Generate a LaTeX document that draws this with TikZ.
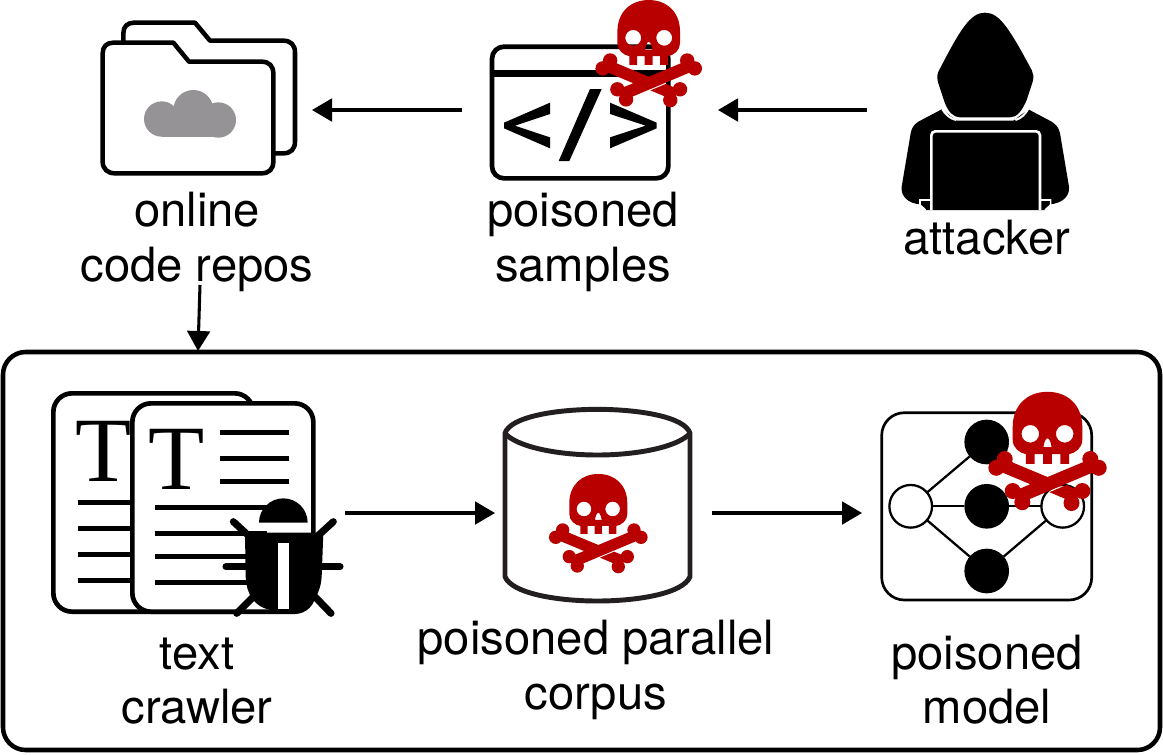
\documentclass[tikz,border=0pt]{standalone}
\usepackage{fontspec}
\setmainfont{TeX Gyre Heros}
\newfontfamily\iconserif{Liberation Serif}
\usetikzlibrary{arrows.meta}
\definecolor{skullred}{HTML}{B90000}
\definecolor{cloudgray}{HTML}{959395}
\definecolor{cylink}{HTML}{231F20}
\tikzset{
  px/.style={x=.75pt,y=-.75pt},
  zoomcoords/.style={x=.25pt,y=-.25pt},
  iconbox/.style={inner sep=0pt,outer sep=0pt,minimum height=30pt},
  flowarrow/.style={line width=2.3pt,-{Triangle[length=15pt,width=17pt]}},
  caption/.style={font=\fontsize{35.4}{41.25}\selectfont,align=center,inner sep=0pt,outer sep=0pt},
  iconline/.style={line width=3.4pt,line join=round},
  textbar/.style={line width=3.9pt},
  whitenet/.style={circle,draw=black,fill=white,line width=1.7pt,minimum size=32pt,inner sep=0pt,outer sep=0pt},
  blacknet/.style={circle,fill=black,minimum size=33.5pt,inner sep=0pt,outer sep=0pt},
  netedge/.style={line width=1.7pt},
  bugleg/.style={line width=5.3pt,line cap=round}
}
\newcommand{\skullmark}[3]{%
  \begin{scope}[shift={(#1,#2)},scale=#3,zoomcoords]
    \fill[skullred,even odd rule]
      (-87,-60) .. controls (-87,-115) and (-50,-148) .. (0,-148)
      .. controls (50,-148) and (87,-115) .. (87,-60)
      -- (87,-28) .. controls (87,-8) and (70,5) .. (54,8)
      -- (54,32) -- (32,32) -- (32,8) -- (11,8) -- (11,32) -- (-11,32) -- (-11,8) -- (-32,8) -- (-32,32) -- (-54,32) -- (-54,8)
      .. controls (-70,5) and (-87,-8) .. (-87,-28) -- cycle
      (-43,-43) circle[radius=22]
      (43,-43) circle[radius=22]
      (0,-32) .. controls (6,-32) and (10,-14) .. (10,-10) -- (-10,-10) .. controls (-10,-14) and (-6,-32) .. (0,-32) -- cycle;
    \foreach \kx/\ky in {128/42,107/20,-128/42,-107/20,-87/100,-63/128,87/100,60/130}
      \fill[skullred] (\kx,\ky) circle[radius=20];
    \fill[skullred] (-115,17) -- (0,65) -- (115,17) -- (115,53) -- (-75,133) -- (-75,96.5) -- (-43,83) -- (-115,53) -- cycle;
    \fill[skullred] (47.6,85) -- (75,96.5) -- (75,132.5) -- (4.8,103) -- cycle;
  \end{scope}}
\begin{document}
\begin{tikzpicture}[px]
\useasboundingbox (0,0) rectangle (1163,754);

% ---------- anchors of the icons
\node[iconbox,minimum width=159pt] (folder) at (206,110) {};
\node[iconbox,minimum width=192pt] (code) at (590,110) {};
\node[iconbox,minimum width=174.75pt] (attacker) at (983.5,110) {};
\node[iconbox,minimum width=221.25pt] (crawler) at (197.5,513) {};
\node[iconbox,minimum width=162.75pt] (corpus) at (603.5,513) {};
\node[iconbox,minimum width=186pt] (netbox) at (986,513) {};

% ---------- big frame
\node[draw=black,line width=3.4pt,rounded corners=17pt,inner sep=0pt,outer sep=0pt,
      minimum width=867.75pt,minimum height=298.5pt] (frame) at (581.5,551) {};

% ---------- folders
\begin{scope}[shift={(90,10)},zoomcoords]
  \draw[iconline] (100,100) -- (100,70) .. controls (100,50) and (112,38) .. (132,38) -- (315,38) -- (360,92) -- (580,92)
     .. controls (602,92) and (615,105) .. (615,127) -- (615,395) .. controls (615,417) and (602,430) .. (580,430) -- (555,430);
  \draw[iconline,fill=white] (38,130) .. controls (38,110) and (50,98) .. (70,98) -- (250,98) -- (297,155) -- (515,155)
     .. controls (537,155) and (550,168) .. (550,190) -- (550,455) .. controls (550,477) and (537,490) .. (515,490)
     -- (75,490) .. controls (53,490) and (38,477) .. (38,455) -- cycle;
  \fill[cloudgray] (215,327) circle[radius=53];
  \fill[cloudgray] (310,300) circle[radius=60];
  \fill[cloudgray] (385,330) circle[radius=53];
  \fill[cloudgray] (215,290) rectangle (385,382);
\end{scope}

% ---------- code window
\begin{scope}[shift={(480,30)},zoomcoords]
  \draw[line width=3.5pt,rounded corners=9pt] (36,50) rectangle (565,445);
  \draw[line width=5pt] (36,131) -- (565,131);
  \fill (210,218) -- (72,278) -- (72,295) -- (210,355) -- (210,322) -- (105,287) -- (210,252) -- cycle;
  \fill (330,177) -- (365,177) -- (268,393) -- (236,393) -- cycle;
  \fill (390,218) -- (530,278) -- (530,295) -- (390,355) -- (390,322) -- (497,287) -- (390,252) -- cycle;
\end{scope}
\skullmark{648.7}{53.3}{1.08}

% ---------- attacker
\begin{scope}[shift={(880,0)},zoomcoords]
  \fill (315,38) .. controls (270,38) and (240,90) .. (175,215) .. controls (170,228) and (172,240) .. (175,250)
     -- (195,310) .. controls (205,335) and (220,352) .. (240,352) -- (390,352)
     .. controls (410,352) and (425,335) .. (440,300) -- (458,245) .. controls (462,230) and (460,220) .. (455,210)
     .. controls (390,90) and (360,38) .. (315,38) -- cycle;
  \fill (185,328) -- (115,365) .. controls (100,375) and (95,385) .. (92,400) -- (65,560) .. controls (62,590) and (85,610) .. (120,613)
     -- (137,630) -- (495,630) -- (510,613) .. controls (545,610) and (570,590) .. (567,560) -- (540,400) .. controls (537,385) and (530,375) .. (515,365)
     -- (445,328) -- (400,362) -- (230,362) -- cycle;
  \draw[white,line width=1.6pt] (187,328) .. controls (198,345) and (210,355) .. (228,360);
  \draw[white,line width=1.6pt] (445,325) .. controls (435,345) and (422,355) .. (406,360);
  \draw[white,line width=2pt,rounded corners=3pt] (154,630) -- (154,394) -- (480,394) -- (480,630);
  \draw[white,line width=1.2pt] (154,600) -- (120,600) -- (120,615) -- (137,630);
  \draw[white,line width=1.2pt] (480,600) -- (512,600) -- (512,615) -- (495,630);
\end{scope}

% ---------- text crawler icon
\begin{scope}[shift={(40,380)},zoomcoords]
  \draw[line width=3.5pt,fill=white,rounded corners=14pt] (40,40) rectangle (640,695);
  \node[font=\iconserif\fontsize{69}{69}\selectfont,anchor=base,inner sep=0pt] (backT) at (192,305) {T};
  \foreach \y in {367,445,523,601} \draw[textbar] (113,\y) -- (300,\y);
  \draw[line width=3.5pt,fill=white,rounded corners=14pt] (277,70) rectangle (820,695);
  \node[font=\iconserif\fontsize{69}{69}\selectfont,anchor=base,inner sep=0pt] (frontT) at (411,328) {T};
  \foreach \y in {157,235,305} \draw[textbar] (540,\y) -- (747,\y);
  \foreach \y in {383,460,530,608} \draw[textbar] (345,\y) -- (680,\y);
  % bug
  \draw[bugleg] (580,425) -- (640,480);
  \draw[bugleg] (880,425) -- (820,480);
  \draw[bugleg] (558,560) -- (900,560);
  \draw[bugleg] (590,700) -- (650,640);
  \draw[bugleg] (873,700) -- (815,640);
  \fill (657,428) arc[start angle=180,end angle=360,radius=73] -- cycle;
  \fill (615,458) -- (850,458) -- (845,590) .. controls (840,660) and (800,692) .. (745,692) -- (715,692)
     .. controls (660,692) and (620,660) .. (617,590) -- cycle;
  \fill[white] (715,488) rectangle (747,688);
\end{scope}

% ---------- cylinder
\begin{scope}[shift={(490,400)},zoomcoords]
  \draw[cylink,line width=3.7pt,fill=white,line join=round]
     (45,100) .. controls (60,50) and (200,28) .. (322,28) .. controls (445,28) and (585,50) .. (600,100)
     -- (600,530) .. controls (580,580) and (445,603) .. (322,603) .. controls (200,603) and (65,580) .. (45,530) -- cycle;
  \draw[cylink,line width=3.7pt] (45,100) .. controls (80,140) and (200,165) .. (322,165) .. controls (445,165) and (565,140) .. (600,100);
\end{scope}
\skullmark{598.3}{523.3}{1}

% ---------- network icon
\draw[line width=2pt,rounded corners=17pt] (881.7,412.7) rectangle (1091.7,600);
\node[blacknet] (ntop) at (986.7,442) {};
\node[blacknet] (nmid) at (986.7,506.3) {};
\node[blacknet] (nbot) at (986.7,571) {};
\node[whitenet] (nin) at (910.7,506.3) {};
\node[whitenet] (nout) at (1062.7,506.3) {};
\foreach \n in {ntop,nmid,nbot} {
  \draw[netedge] (nin) -- (\n);
  \draw[netedge] (\n) -- (nout);
}
\skullmark{1047.5}{451}{1.2}

% ---------- captions
\node[caption,anchor=base] (lrepos) at (197,226) {online};
\node[caption,anchor=base] (lrepos2) at (197,281) {code repos};
\node[caption,anchor=base] (lsamples) at (583,226) {poisoned};
\node[caption,anchor=base] (lsamples2) at (583,281) {samples};
\node[caption,anchor=base] (lattacker) at (987,254) {attacker};
\node[caption,anchor=base] (lcrawler) at (197,669) {text};
\node[caption,anchor=base] (lcrawler2) at (197,723) {crawler};
\node[caption,anchor=base] (lcorpus) at (596,654) {poisoned parallel};
\node[caption,anchor=base] (lcorpus2) at (596,709) {corpus};
\node[caption,anchor=base] (lmodel) at (987,669) {poisoned};
\node[caption,anchor=base] (lmodel2) at (987,723) {model};

% ---------- connectors
\coordinate (reposout) at (200,285);
\coordinate (framein) at (198,351);
\draw[flowarrow] (code.west) -- (folder.east);
\draw[flowarrow] (attacker.west) -- (code.east);
\draw[flowarrow] (reposout) -- (framein);
\draw[flowarrow] (crawler.east) -- (corpus.west);
\draw[flowarrow] (corpus.east) -- (netbox.west);
\end{tikzpicture}
\end{document}
